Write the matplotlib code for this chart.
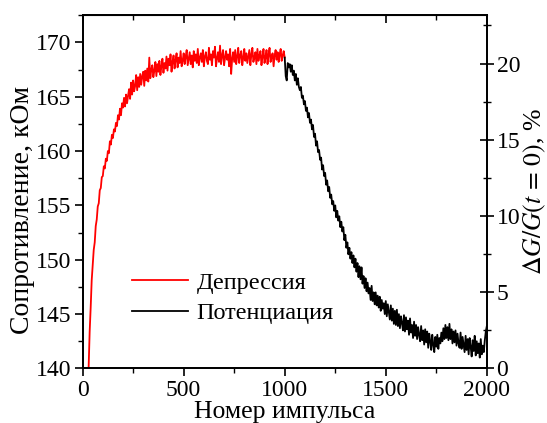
import numpy as np
import matplotlib
matplotlib.use('Agg')
import matplotlib.pyplot as plt
from matplotlib.ticker import MultipleLocator

# шаг 5 импульсов
dep_pulse = np.arange(20, 1001, 5)
dep_kohm = [
    136.5, 138.4, 140.2, 143.4, 145.6, 148.1, 149.5, 150.9, 151.6, 153.1,
    153.7, 154.9, 155.2, 156.4, 156.6, 157.6, 157.7, 158.6, 158.4, 159.3,
    159.1, 160.0, 159.8, 160.9, 160.6, 161.5, 161.2, 162.0, 161.8, 162.6,
    162.3, 163.3, 162.9, 163.9, 163.3, 164.4, 164.0, 164.9, 164.1, 165.2,
    164.4, 165.1, 165.7, 164.8, 166.3, 165.2, 166.5, 165.5, 166.0, 167.0,
    165.6, 166.8, 165.9, 167.1, 166.1, 166.9, 167.3, 166.0, 167.4, 166.5,
    167.6, 166.4, 168.6, 166.7, 167.5, 167.9, 166.8, 167.4, 168.2, 166.9,
    168.0, 167.3, 168.3, 167.0, 167.8, 168.5, 167.2, 168.1, 167.6, 168.7,
    167.4, 168.5, 167.9, 168.9, 167.3, 168.2, 168.8, 167.6, 168.4, 169.0,
    167.7, 168.6, 168.1, 169.2, 167.8, 168.3, 169.0, 168.0, 168.7, 169.3,
    167.9, 168.5, 169.1, 168.0, 168.8, 167.7, 169.2, 168.3, 168.9, 168.1,
    169.4, 167.9, 168.6, 169.0, 168.2, 169.3, 167.8, 168.7, 169.1, 168.3,
    168.0, 169.5, 168.4, 168.9, 167.9, 169.2, 168.6, 169.6, 167.8, 168.5,
    169.1, 168.2, 169.7, 168.0, 168.8, 169.3, 167.9, 168.6, 169.2, 168.4,
    168.9, 167.8, 169.4, 167.1, 168.5, 169.1, 168.2, 169.3, 168.0, 168.7,
    169.5, 168.1, 168.8, 169.2, 167.9, 168.6, 169.4, 168.3, 169.0, 168.1,
    168.7, 169.3, 167.9, 168.9, 169.5, 168.2, 168.6, 169.1, 168.0, 169.4,
    168.3, 168.8, 169.2, 167.9, 168.7, 169.4, 168.1, 168.6, 169.3, 168.0,
    168.9, 169.5, 168.2, 168.7, 169.0, 167.8, 168.8, 169.3, 168.4, 169.1,
    168.2, 168.9, 169.4, 168.3, 168.8, 169.2, 168.6,
]

pot_pulse = np.arange(1000, 2001, 5)
pot_kohm = [
    168.6, 166.9, 166.5, 168.1, 167.7, 168.0, 167.3, 167.9, 167.0, 167.4,
    166.5, 167.1, 166.1, 166.7, 165.9, 165.6, 165.9, 164.9, 165.1, 164.3,
    164.6, 163.7, 164.0, 163.1, 163.5, 162.6, 162.9, 162.0, 162.4, 161.3,
    161.6, 160.5, 160.9, 159.9, 160.1, 159.2, 159.4, 158.3, 158.7, 157.7,
    158.0, 156.9, 157.3, 156.3, 156.7, 155.7, 156.0, 155.1, 155.4, 154.5,
    155.0, 153.9, 154.5, 153.6, 154.0, 153.0, 153.5, 152.6, 153.0, 151.8,
    152.3, 151.1, 151.6, 150.5, 151.1, 150.1, 150.7, 149.7, 150.4, 149.3,
    150.1, 148.9, 149.7, 148.4, 149.4, 148.2, 149.3, 147.8, 148.5, 147.4,
    148.3, 147.1, 147.9, 146.9, 147.4, 146.3, 147.6, 146.2, 147.0, 145.9,
    147.0, 145.8, 146.7, 145.6, 146.6, 145.3, 146.3, 145.5, 146.0, 145.0,
    146.2, 144.8, 145.9, 145.2, 144.5, 145.8, 144.4, 145.5, 144.1, 145.3,
    144.0, 145.4, 143.9, 145.0, 143.7, 144.8, 144.2, 143.5, 144.9, 143.4,
    144.7, 143.6, 144.4, 143.1, 144.6, 143.3, 144.0, 142.8, 144.3, 143.0,
    144.0, 142.7, 143.8, 143.1, 142.5, 143.9, 142.6, 143.5, 142.2, 143.6,
    142.4, 143.4, 141.9, 143.2, 142.5, 141.7, 143.1, 142.2, 141.5, 142.9,
    142.0, 143.1, 141.8, 142.8, 142.3, 143.3, 142.5, 143.7, 142.7, 144.0,
    142.8, 143.8, 142.6, 144.1, 142.7, 143.6, 142.3, 143.4, 142.4, 143.5,
    142.1, 143.2, 142.3, 141.9, 143.3, 141.8, 142.9, 142.2, 141.5, 143.0,
    141.7, 142.7, 141.3, 142.8, 142.0, 141.1, 142.6, 141.6, 143.0, 141.2,
    142.5, 141.4, 142.3, 141.0, 142.7, 141.3, 142.1, 141.5, 142.6, 143.4,
    143.9,
]

plt.rcParams['font.family'] = ['Liberation Serif', 'DejaVu Serif']
plt.rcParams['mathtext.fontset'] = 'stix'
FS_TICK, FS_LAB, FS_LEG = 17, 18.5, 17.5

fig = plt.figure(figsize=(5.47, 4.23), dpi=100)
ax = fig.add_axes([0.151, 0.129, 0.739, 0.835])

ax.plot(dep_pulse, dep_kohm, color='#FF0000', linewidth=1.3, label='Депрессия')
ax.plot(pot_pulse, pot_kohm, color='black', linewidth=1.3, label='Потенциация')

ax.set_xlim(0, 2000)
ax.set_ylim(140, 172.5)
ax.xaxis.set_major_locator(MultipleLocator(500))
ax.xaxis.set_minor_locator(MultipleLocator(250))
ax.yaxis.set_major_locator(MultipleLocator(5))
ax.yaxis.set_minor_locator(MultipleLocator(2.5))
ax.tick_params(axis='both', which='major', direction='out', length=6, width=1.2,
               labelsize=FS_TICK, pad=2)
ax.tick_params(axis='both', which='minor', direction='out', length=3.5, width=1.0)
for s in ax.spines.values():
    s.set_linewidth(1.3)

ax.set_xlabel('Номер импульса', fontsize=FS_LAB, labelpad=0)
ax.set_ylabel('Сопротивление, кОм', fontsize=20)
ax.yaxis.set_label_coords(-0.118, 0.45)

# верхние засечки внутрь
sec = ax.secondary_xaxis('top')
sec.xaxis.set_major_locator(MultipleLocator(500))
sec.xaxis.set_minor_locator(MultipleLocator(250))
sec.tick_params(which='major', direction='in', length=6, width=1.2, labeltop=False)
sec.tick_params(which='minor', direction='in', length=3.5, width=1.0)
sec.set_xticklabels([])

ax2 = ax.twinx()
ax2.set_ylim(0, 23.17)
ax2.yaxis.set_major_locator(MultipleLocator(5))
ax2.yaxis.set_minor_locator(MultipleLocator(2.5))
ax2.tick_params(which='major', direction='inout', length=10, width=1.2,
                labelsize=FS_TICK, pad=2)
ax2.tick_params(which='minor', direction='inout', length=6, width=1.0)
ax2.set_ylabel(r'$\Delta G/G(t\,=\,0)$, %', fontsize=FS_LAB, labelpad=1)
for s in ax2.spines.values():
    s.set_linewidth(1.3)

ax.legend(loc='lower left', bbox_to_anchor=(0.122, 0.125), frameon=False,
          fontsize=FS_LEG, handlelength=2.3, handletextpad=0.35,
          labelspacing=0.35, borderpad=0, borderaxespad=0)

fig.savefig('out.png', dpi=100)
